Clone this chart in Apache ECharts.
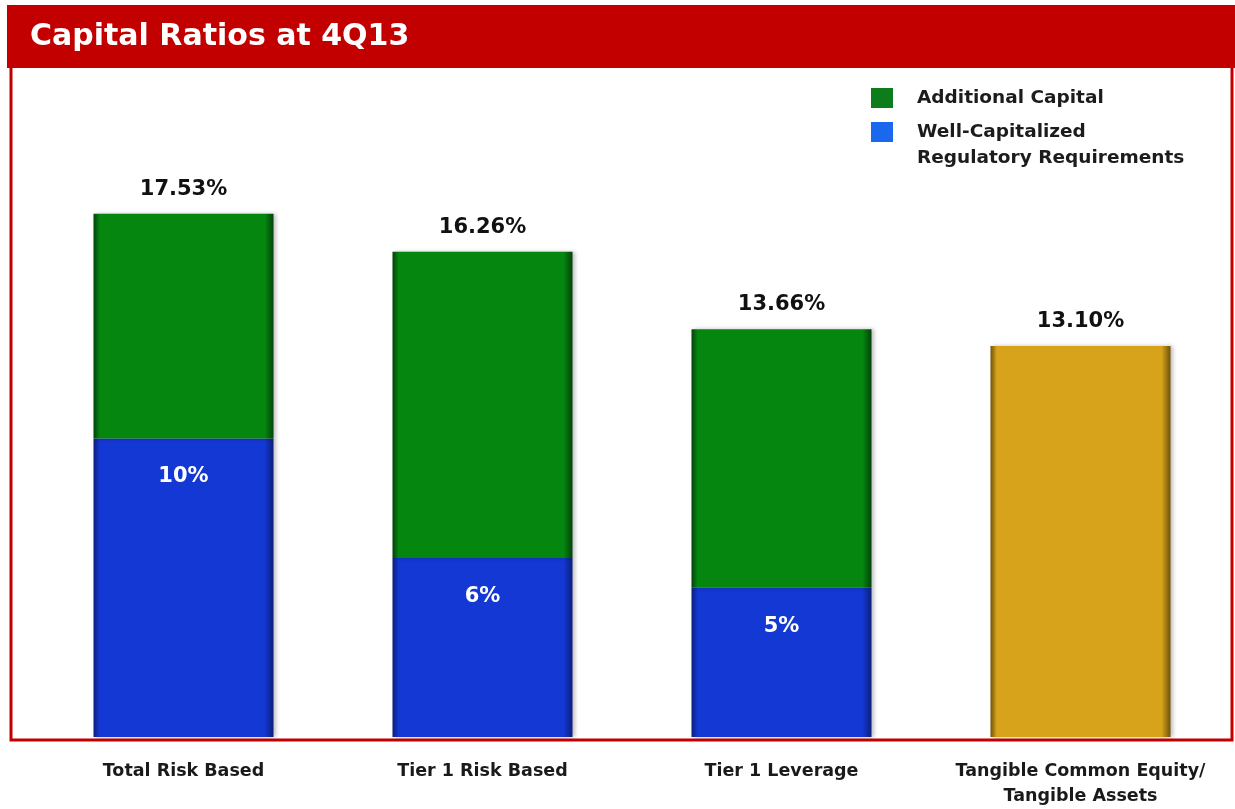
<!DOCTYPE html>
<html>
<head>
<meta charset="utf-8">
<title>Capital Ratios at 4Q13</title>
<script src="https://cdn.jsdelivr.net/npm/echarts@6/dist/echarts.min.js"></script>
<style>
  html, body { margin: 0; padding: 0; background: #ffffff; }
  #chart { width: 1235px; height: 809px; }
</style>
</head>
<body>
<div id="chart"></div>
<script>
// Capital ratios, 4Q13 (percent)
const categories = [
  'Total Risk Based',
  'Tier 1 Risk Based',
  'Tier 1 Leverage',
  'Tangible Common Equity/\nTangible Assets'
];
const totalRatios = [17.53, 16.26, 13.66, 13.10];
const wellCapitalized = [10, 6, 5, null];
const tangibleRatio = [null, null, null, 13.10];

const titleText = 'Capital Ratios at 4Q13';
const nameAdditional = 'Additional Capital';
const nameRequirement = 'Well-Capitalized Regulatory Requirements';
const nameTangible = 'Tangible Common Equity/Tangible Assets';

// Green segment = total ratio above the regulatory requirement
const additionalCapital = totalRatios.map((t, i) =>
  wellCapitalized[i] == null ? null : +(t - wellCapitalized[i]).toFixed(2));

const FONT = '"DejaVu Sans", Verdana, sans-serif';

// Horizontal bevel shading for the bars
function bevel(edge, base) {
  return {
    type: 'linear', x: 0, y: 0, x2: 1, y2: 0,
    colorStops: [
      { offset: 0, color: edge },
      { offset: 0.035, color: base },
      { offset: 0.95, color: base },
      { offset: 1, color: edge }
    ]
  };
}

const legendText = {
  fontFamily: FONT, fontWeight: 'bold', fontSize: 18.5, color: '#1c1c1c',
  lineHeight: 26, padding: [0, 0, 0, 19]
};

const chart = echarts.init(document.getElementById('chart'));

chart.setOption({
  backgroundColor: '#ffffff',
  animation: false,
  textStyle: { fontFamily: FONT },
  grid: { left: 34, width: 1196, top: 140, bottom: 71 },
  legend: [
    {
      data: [{ name: nameAdditional, itemStyle: { color: '#0d7d1c' } }],
      left: 871, top: 85, padding: 0,
      icon: 'rect',
      itemWidth: 22, itemHeight: 20,
      selectedMode: false,
      textStyle: legendText
    },
    {
      // square sits beside the first of the two text lines
      data: [{ name: nameRequirement, itemStyle: { color: '#1a68ee' } }],
      left: 871, top: 119, padding: 0,
      icon: 'path://M0,0H22V20H0Z M0,46H0.01V46Z',
      itemWidth: 22, itemHeight: 46,
      selectedMode: false,
      formatter: () => 'Well-Capitalized\nRegulatory Requirements',
      textStyle: legendText
    }
  ],
  xAxis: {
    type: 'category',
    data: categories,
    axisLine: { show: false },
    axisTick: { show: false },
    axisLabel: {
      margin: 22,
      interval: 0,
      fontFamily: FONT, fontWeight: 'bold', fontSize: 17.5, color: '#1a1a1a',
      lineHeight: 25
    }
  },
  yAxis: {
    type: 'value', min: 0, max: 20, show: false,
    splitLine: { show: false }
  },
  series: [
    {
      name: nameRequirement,
      type: 'bar',
      stack: 'ratio',
      barWidth: 180,
      data: wellCapitalized,
      itemStyle: {
        color: bevel('#0a1f7a', '#1438d4'),
        shadowColor: 'rgba(0,0,0,0.25)', shadowBlur: 4, shadowOffsetX: 2
      },
      label: {
        show: true, position: 'insideTop', distance: 28,
        formatter: p => p.value + '%',
        fontFamily: FONT, fontWeight: 'bold', fontSize: 21, color: '#ffffff'
      }
    },
    {
      name: nameAdditional,
      type: 'bar',
      stack: 'ratio',
      barWidth: 180,
      data: additionalCapital,
      itemStyle: {
        color: bevel('#03420a', '#05870f'),
        shadowColor: 'rgba(0,0,0,0.25)', shadowBlur: 4, shadowOffsetX: 2
      },
      label: {
        show: true, position: 'top', distance: 14,
        formatter: p => totalRatios[p.dataIndex].toFixed(2) + '%',
        fontFamily: FONT, fontWeight: 'bold', fontSize: 21, color: '#111111'
      }
    },
    {
      name: nameTangible,
      type: 'bar',
      stack: 'ratio',
      barWidth: 180,
      data: tangibleRatio,
      itemStyle: {
        color: bevel('#6e5208', '#d6a31a'),
        shadowColor: 'rgba(0,0,0,0.25)', shadowBlur: 4, shadowOffsetX: 2
      },
      label: {
        show: true, position: 'top', distance: 14,
        formatter: p => p.value.toFixed(2) + '%',
        fontFamily: FONT, fontWeight: 'bold', fontSize: 21, color: '#111111'
      }
    }
  ],
  graphic: [
    // panel frame
    {
      type: 'rect', z: 0, silent: true,
      shape: { x: 11, y: 66, width: 1221, height: 674 },
      style: { fill: 'none', stroke: '#c00000', lineWidth: 3 }
    },
    // header band
    {
      type: 'rect', z: 1, silent: true,
      shape: { x: 7, y: 5, width: 1228, height: 63 },
      style: { fill: '#c20000' }
    },
    {
      type: 'text', z: 2, silent: true,
      left: 30, top: 22,
      style: {
        text: titleText,
        fill: '#ffffff',
        font: 'bold 30px ' + FONT
      }
    }
  ]
});
</script>
</body>
</html>
